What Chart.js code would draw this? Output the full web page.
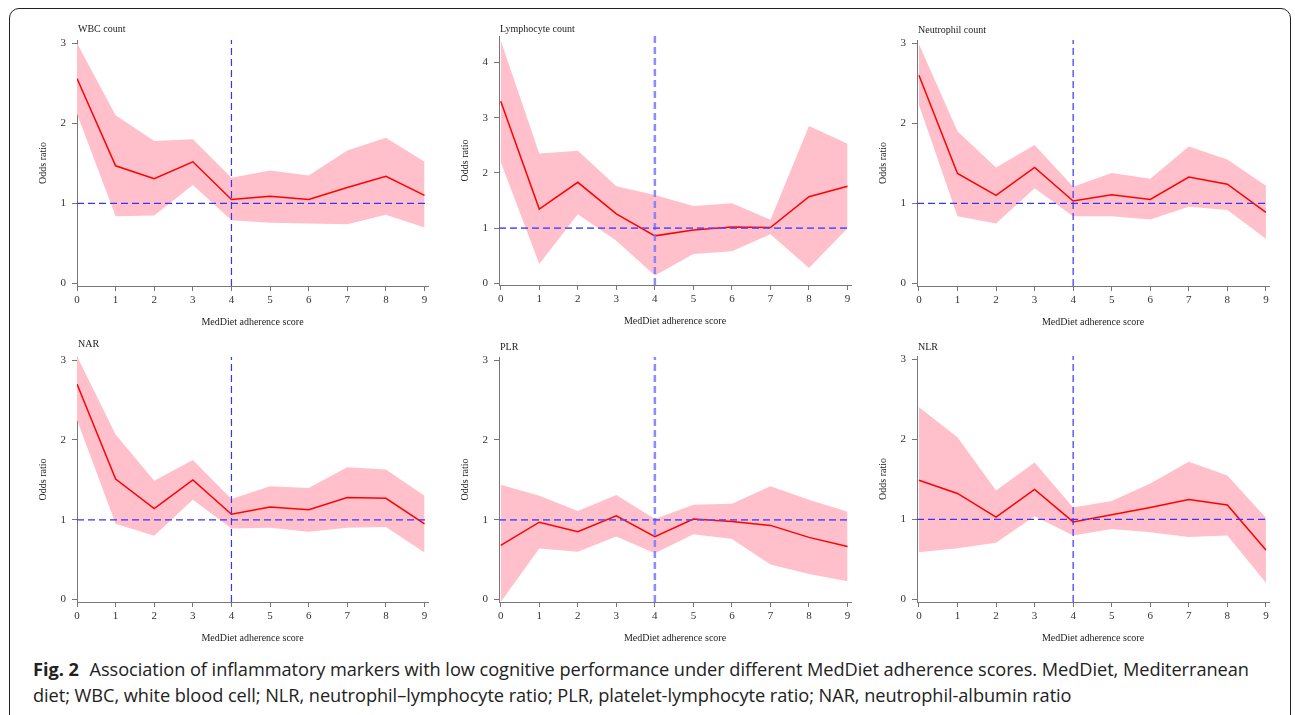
<!DOCTYPE html>
<html>
<head>
<meta charset="utf-8">
<script src="https://cdn.jsdelivr.net/npm/chart.js@4.4.0/dist/chart.umd.min.js"></script>
<style>
  body { margin: 0; background: #fff; width: 1295px; height: 715px; overflow: hidden; position: relative; }
  #frame { position: absolute; left: 9px; top: 8px; width: 1282px; height: 720px; border: 1.3px solid #222; border-radius: 10px; box-sizing: border-box; }
  canvas { position: absolute; }
  #caption { position: absolute; left: 33px; top: 656px; font-family: "Open Sans", sans-serif; font-size: 18.2px; line-height: 26px; color: #222; letter-spacing: -0.05px; white-space: nowrap; }
  #caption b { font-weight: 700; margin-right: 6px; }
</style>
</head>
<body>
<div id="frame"></div>

<script>
// MedDiet adherence score
var scores = [0, 1, 2, 3, 4, 5, 6, 7, 8, 9];
var xTicks = [0, 1, 2, 3, 4, 5, 6, 7, 8, 9];
var yTicks3 = [0, 1, 2, 3];
var yTicks4 = [0, 1, 2, 3, 4];

// odds ratio with lower / upper bounds
var wbcOR = [2.56, 1.47, 1.31, 1.52, 1.05, 1.09, 1.05, 1.20, 1.34, 1.10];
var wbcLo = [2.12, 0.84, 0.85, 1.23, 0.79, 0.76, 0.75, 0.74, 0.86, 0.70];
var wbcHi = [3.00, 2.10, 1.78, 1.80, 1.32, 1.41, 1.35, 1.66, 1.82, 1.52];

var lymOR = [3.30, 1.345, 1.83, 1.26, 0.86, 0.965, 1.02, 1.01, 1.57, 1.76];
var lymLo = [2.20, 0.35, 1.25, 0.77, 0.14, 0.53, 0.58, 0.89, 0.28, 1.00];
var lymHi = [4.40, 2.35, 2.40, 1.76, 1.60, 1.40, 1.45, 1.15, 2.85, 2.53];

var neuOR = [2.60, 1.375, 1.10, 1.45, 1.03, 1.11, 1.05, 1.33, 1.24, 0.89];
var neuLo = [2.23, 0.84, 0.75, 1.19, 0.84, 0.84, 0.80, 0.96, 0.92, 0.56];
var neuHi = [2.99, 1.90, 1.45, 1.73, 1.21, 1.38, 1.31, 1.71, 1.55, 1.22];

var narOR = [2.70, 1.51, 1.14, 1.50, 1.07, 1.16, 1.125, 1.28, 1.27, 0.95];
var narLo = [2.25, 0.95, 0.80, 1.25, 0.89, 0.90, 0.85, 0.90, 0.91, 0.59];
var narHi = [3.05, 2.07, 1.49, 1.75, 1.26, 1.42, 1.40, 1.66, 1.63, 1.30];

var plrOR = [0.68, 0.97, 0.85, 1.05, 0.79, 1.01, 0.98, 0.93, 0.78, 0.665];
var plrLo = [-0.03, 0.64, 0.60, 0.79, 0.58, 0.82, 0.76, 0.44, 0.32, 0.23];
var plrHi = [1.44, 1.30, 1.11, 1.31, 1.01, 1.19, 1.20, 1.42, 1.25, 1.10];

var nlrOR = [1.49, 1.325, 1.03, 1.375, 0.97, 1.06, 1.15, 1.25, 1.18, 0.62];
var nlrLo = [0.59, 0.64, 0.71, 1.04, 0.80, 0.88, 0.84, 0.78, 0.80, 0.21];
var nlrHi = [2.40, 2.025, 1.36, 1.71, 1.15, 1.23, 1.45, 1.72, 1.55, 1.02];

var cutoff = 4;
var refOR = 1;

// plot area of each panel on the page
var panels = [
  { title: 'WBC count', or: wbcOR, lo: wbcLo, hi: wbcHi, yTicks: yTicks3, L: 77, T: 40, R: 428, B: 286, titleY: 29, xmin: 0, xmax: 9.09, ymin: -0.03, ymax: 3.04, light: false },
  { title: 'Lymphocyte count', or: lymOR, lo: lymLo, hi: lymHi, yTicks: yTicks4, L: 499, T: 36, R: 851, B: 285, titleY: 29, xmin: -0.045, xmax: 9.09, ymin: -0.03, ymax: 4.48, light: true },
  { title: 'Neutrophil count', or: neuOR, lo: neuLo, hi: neuHi, yTicks: yTicks3, L: 917, T: 40, R: 1269, B: 286, titleY: 30, xmin: -0.05, xmax: 9.08, ymin: -0.03, ymax: 3.04, light: false },
  { title: 'NAR', or: narOR, lo: narLo, hi: narHi, yTicks: yTicks3, L: 77, T: 357, R: 428, B: 602, titleY: 344, xmin: 0, xmax: 9.09, ymin: -0.03, ymax: 3.04, light: false },
  { title: 'PLR', or: plrOR, lo: plrLo, hi: plrHi, yTicks: yTicks3, L: 499, T: 357, R: 851, B: 602, titleY: 347, xmin: -0.045, xmax: 9.09, ymin: -0.03, ymax: 3.04, light: true },
  { title: 'NLR', or: nlrOR, lo: nlrLo, hi: nlrHi, yTicks: yTicks3, L: 917, T: 356, R: 1269, B: 602, titleY: 347, xmin: -0.05, xmax: 9.08, ymin: -0.03, ymax: 3.04, light: false }
];

var serif = '"Liberation Serif", "Times New Roman", serif';
var axisColor = '#777';
var padL = 70, padT = 25, padR = 12, padB = 50;

// panel title at the left of the plot area
var panelTitle = {
  id: 'panelTitle',
  afterDraw: function (chart, args, opts) {
    var ctx = chart.ctx;
    ctx.save();
    ctx.font = '10px ' + serif;
    ctx.fillStyle = '#222';
    ctx.textBaseline = 'middle';
    ctx.fillText(opts.text, chart.chartArea.left + 1, opts.y);
    ctx.restore();
  }
};

function pts(xs, ys) {
  return xs.map(function (x, i) { return { x: x, y: ys[i] }; });
}

panels.forEach(function (p) {
  var c = document.createElement('canvas');
  var w = (p.R - p.L) + padL + padR;
  var h = (p.B - p.T) + padT + padB;
  c.width = w; c.height = h;
  c.style.left = (p.L - padL) + 'px';
  c.style.top = (p.T - padT) + 'px';
  c.style.width = w + 'px'; c.style.height = h + 'px';
  document.body.appendChild(c);

  var vColor = p.light ? 'rgba(120,120,255,0.85)' : '#3535ff';
  var hColor = p.light ? 'rgba(80,80,255,0.9)' : '#3535ff';
  var vWidth = p.light ? 2.5 : 1.2;
  var hWidth = p.light ? 1.8 : 1.2;

  new Chart(c, {
    type: 'line',
    data: {
      datasets: [
        { data: pts(scores, p.hi), borderWidth: 0, pointRadius: 0, backgroundColor: '#ffc0cb', fill: '+1', order: 3 },
        { data: pts(scores, p.lo), borderWidth: 0, pointRadius: 0, fill: false, order: 4 },
        { data: pts(scores, p.or), borderColor: '#ff0000', borderWidth: 1.5, pointRadius: 0, fill: false, order: 2 },
        { data: [{ x: cutoff, y: p.ymin }, { x: cutoff, y: p.ymax }], borderColor: vColor, borderWidth: vWidth, borderDash: [7, 4], pointRadius: 0, fill: false, order: 1 },
        { data: [{ x: p.xmin, y: refOR }, { x: p.xmax, y: refOR }], borderColor: hColor, borderWidth: hWidth, borderDash: [7, 4], pointRadius: 0, fill: false, order: 0 }
      ]
    },
    options: {
      responsive: false,
      animation: false,
      devicePixelRatio: 1,
      layout: { padding: { left: 0, top: padT, right: padR, bottom: 0 } },
      elements: { line: { tension: 0 } },
      plugins: {
        legend: { display: false },
        tooltip: { enabled: false },
        panelTitle: { text: p.title, y: p.titleY - (p.T - padT) }
      },
      scales: {
        x: {
          type: 'linear', min: p.xmin, max: p.xmax,
          afterBuildTicks: function (s) { s.ticks = xTicks.map(function (v) { return { value: v }; }); },
          afterFit: function (s) { s.height = padB; },
          grid: { display: true, drawOnChartArea: false, drawTicks: true, tickLength: 5, color: axisColor },
          border: { display: true, color: axisColor, width: 1 },
          ticks: { padding: 3, color: '#333', font: { family: serif, size: 11 }, maxRotation: 0 },
          title: { display: true, text: 'MedDiet adherence score', color: '#222', font: { family: serif, size: 10 }, padding: { top: 0, bottom: 8 } }
        },
        y: {
          type: 'linear', min: p.ymin, max: p.ymax,
          afterBuildTicks: function (s) { s.ticks = p.yTicks.map(function (v) { return { value: v }; }); },
          afterFit: function (s) { s.width = padL; },
          grid: { display: true, drawOnChartArea: false, drawTicks: true, tickLength: 5, color: axisColor },
          border: { display: true, color: axisColor, width: 1 },
          ticks: { padding: 6, color: '#333', font: { family: serif, size: 11 } },
          title: { display: true, text: 'Odds ratio', color: '#222', font: { family: serif, size: 10 }, padding: { top: 30, bottom: 0 } }
        }
      }
    },
    plugins: [panelTitle]
  });
});
</script>

<div id="caption"><b>Fig. 2</b> Association of inflammatory markers with low cognitive performance under different MedDiet adherence scores. MedDiet, Mediterranean<br>diet; WBC, white blood cell; NLR, neutrophil–lymphocyte ratio; PLR, platelet-lymphocyte ratio; NAR, neutrophil-albumin ratio</div>
</body>
</html>
